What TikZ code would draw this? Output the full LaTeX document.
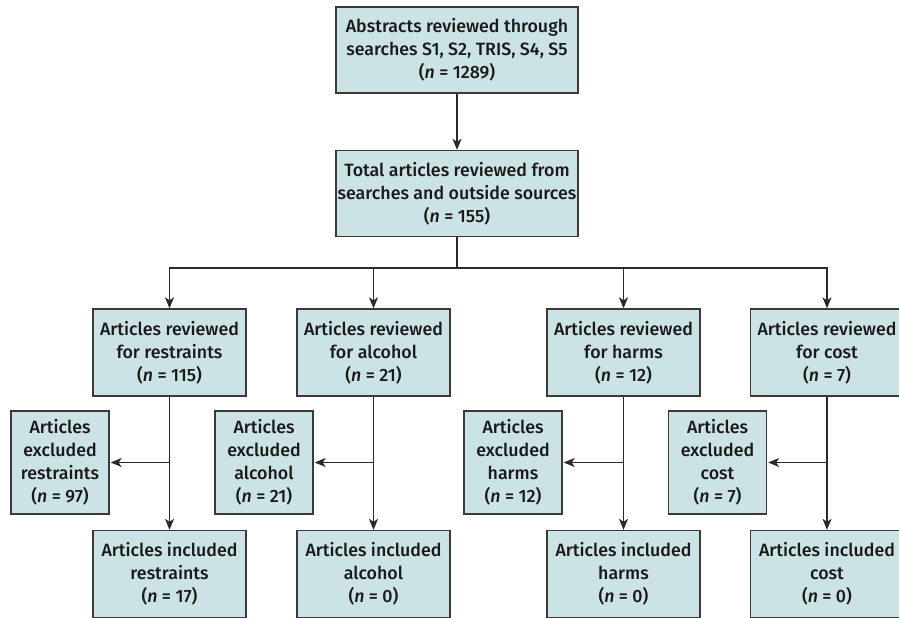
\documentclass[tikz,border=0pt]{standalone}
\usepackage{fontspec}
\setmainfont{Fira Sans}[UprightFont=* Medium, ItalicFont=* Medium Italic]
\usetikzlibrary{arrows.meta}
\definecolor{boxfill}{HTML}{CCE3E5}
\definecolor{boxline}{HTML}{3A3A3A}
\definecolor{lineclr}{HTML}{2A2A2A}
\begin{document}
\begin{tikzpicture}[x=1pt,y=1pt,
  box/.style={draw=boxline, line width=1.3pt, fill=boxfill, align=center, inner sep=0pt,
    font=\fontsize{17.8}{23}\selectfont, text=black!90},
  wide/.style={box, minimum width=242pt, minimum height=86pt},
  rev/.style={box, minimum width=153pt, minimum height=87pt},
  exc/.style={box, minimum width=98pt, minimum height=103pt},
  conn/.style={draw=lineclr, line width=1.2pt},
  arr/.style={conn, -{Stealth[length=11pt,width=9pt,inset=3pt]}}]
\useasboundingbox (0,0) rectangle (899,618);

\node[wide] (top) at (457,568) {Abstracts reviewed through\\searches S1, S2, TRIS, S4, S5\\(\textit{n} = 1289)};
\node[wide] (tot) at (457,424.5) {Total articles reviewed from\\searches and outside sources\\(\textit{n} = 155)};

\node[rev] (r1) at (169.5,265.5) {Articles reviewed\\for restraints\\(\textit{n} = 115)};
\node[rev] (r2) at (373.5,265.5) {Articles reviewed\\for alcohol\\(\textit{n} = 21)};
\node[rev] (r3) at (623.5,265.5) {Articles reviewed\\for harms\\(\textit{n} = 12)};
\node[rev] (r4) at (827,265.5) {Articles reviewed\\for cost\\(\textit{n} = 7)};

\node[exc] (e1) at (60,155.5) {Articles\\excluded\\restraints\\(\textit{n} = 97)};
\node[exc] (e2) at (264,155.5) {Articles\\excluded\\alcohol\\(\textit{n} = 21)};
\node[exc] (e3) at (513,155.5) {Articles\\excluded\\harms\\(\textit{n} = 12)};
\node[exc] (e4) at (717.5,155.5) {Articles\\excluded\\cost\\(\textit{n} = 7)};

\node[rev] (i1) at (169.5,44) {Articles included\\restraints\\(\textit{n} = 17)};
\node[rev] (i2) at (373.5,44) {Articles included\\alcohol\\(\textit{n} = 0)};
\node[rev] (i3) at (623.5,44) {Articles included\\harms\\(\textit{n} = 0)};
\node[rev] (i4) at (827,44) {Articles included\\cost\\(\textit{n} = 0)};

\coordinate (hub) at (457,350);
\draw[arr] (top) -- (tot);
\draw[conn] (tot.south) -- (hub);
\foreach \k in {1,2,3,4}{
  \draw[arr] (hub) -| (r\k.north);
  \draw[arr] (r\k) -- (i\k);
  \draw[arr] (r\k.south |- e\k.east) -- ([xshift=1pt]e\k.east);
}
\end{tikzpicture}
\end{document}
